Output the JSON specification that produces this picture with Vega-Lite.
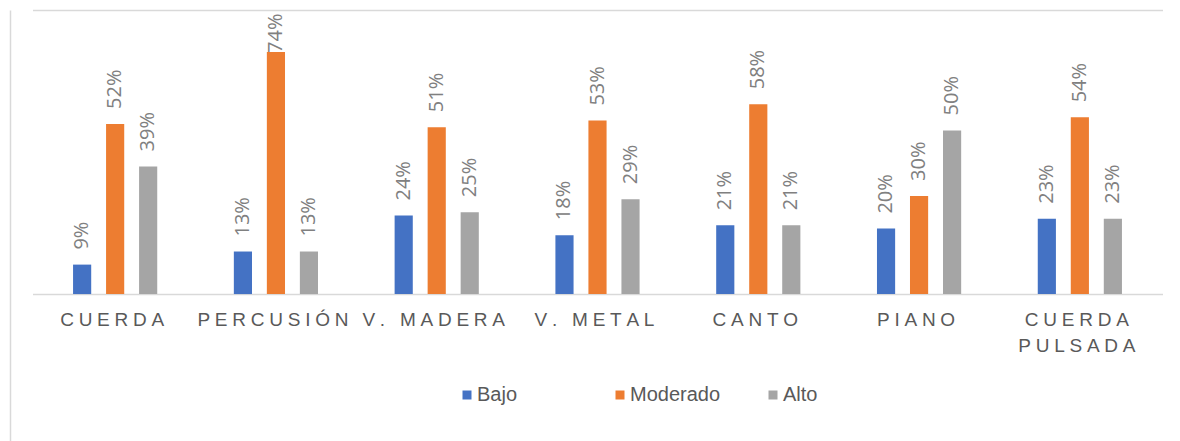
{
  "$schema": "https://vega.github.io/schema/vega-lite/v6.json",
  "width": 1170,
  "height": 431,
  "autosize": {"type": "none"},
  "padding": {"left": 10, "top": 10, "right": 0, "bottom": 0},
  "background": "white",
  "config": {"view": {"stroke": null}},
  "data": {"values": [
    {"categoria": "CUERDA", "nivel": "Bajo", "valor": 0.09},
    {"categoria": "CUERDA", "nivel": "Moderado", "valor": 0.52},
    {"categoria": "CUERDA", "nivel": "Alto", "valor": 0.39},
    {"categoria": "PERCUSIÓN", "nivel": "Bajo", "valor": 0.13},
    {"categoria": "PERCUSIÓN", "nivel": "Moderado", "valor": 0.74},
    {"categoria": "PERCUSIÓN", "nivel": "Alto", "valor": 0.13},
    {"categoria": "V. MADERA", "nivel": "Bajo", "valor": 0.24},
    {"categoria": "V. MADERA", "nivel": "Moderado", "valor": 0.51},
    {"categoria": "V. MADERA", "nivel": "Alto", "valor": 0.25},
    {"categoria": "V. METAL", "nivel": "Bajo", "valor": 0.18},
    {"categoria": "V. METAL", "nivel": "Moderado", "valor": 0.53},
    {"categoria": "V. METAL", "nivel": "Alto", "valor": 0.29},
    {"categoria": "CANTO", "nivel": "Bajo", "valor": 0.21},
    {"categoria": "CANTO", "nivel": "Moderado", "valor": 0.58},
    {"categoria": "CANTO", "nivel": "Alto", "valor": 0.21},
    {"categoria": "PIANO", "nivel": "Bajo", "valor": 0.20},
    {"categoria": "PIANO", "nivel": "Moderado", "valor": 0.30},
    {"categoria": "PIANO", "nivel": "Alto", "valor": 0.50},
    {"categoria": "CUERDA PULSADA", "nivel": "Bajo", "valor": 0.23},
    {"categoria": "CUERDA PULSADA", "nivel": "Moderado", "valor": 0.54},
    {"categoria": "CUERDA PULSADA", "nivel": "Alto", "valor": 0.23}
  ]},
  "encoding": {
    "x": {
      "field": "categoria",
      "type": "nominal",
      "sort": null,
      "scale": {"range": [22.5, 1152.5], "paddingInner": 0.384, "paddingOuter": 0.206},
      "axis": {
        "orient": "bottom",
        "offset": -147,
        "title": null,
        "domainColor": "#d9d9d9",
        "domainWidth": 1.5,
        "ticks": false,
        "labelAngle": 0,
        "labelPadding": 16,
        "labelOffset": -3,
        "labelFont": "Liberation Sans",
        "labelFontSize": 19,
        "labelColor": "#595959",
        "labelLineHeight": 26,
        "labelBaseline": "top",
        "labelExpr": "datum.label == 'CUERDA PULSADA' ? ['C\u2005U\u2005E\u2005R\u2005D\u2005A', 'P\u2005U\u2005L\u2005S\u2005A\u2005D\u2005A'] : replace(datum.label, /(.)(?!$)/g, '$1\u2005')"
      }
    },
    "xOffset": {
      "field": "nivel",
      "type": "nominal",
      "sort": ["Bajo", "Moderado", "Alto"],
      "scale": {"paddingInner": 0.45, "paddingOuter": 0.225}
    },
    "y": {
      "field": "valor",
      "type": "quantitative",
      "scale": {"domain": [-0.449, 0.868], "nice": false, "zero": false},
      "axis": {
        "title": null,
        "orient": "left",
        "domain": true,
        "domainColor": "#d9d9d9",
        "domainWidth": 1.5,
        "grid": true,
        "gridColor": "#d9d9d9",
        "gridWidth": 1.5,
        "values": [0.868],
        "labels": false,
        "ticks": false
      }
    }
  },
  "layer": [
    {
      "mark": {"type": "bar"},
      "encoding": {
        "y2": {"datum": 0},
        "color": {
          "field": "nivel",
          "type": "nominal",
          "sort": ["Bajo", "Moderado", "Alto"],
          "scale": {"domain": ["Bajo", "Moderado", "Alto"], "range": ["#4472C4", "#ED7D31", "#A5A5A5"]},
          "legend": {
            "orient": "none",
            "legendX": 447,
            "legendY": 375,
            "direction": "horizontal",
            "columns": 3,
            "gridAlign": "all",
            "columnPadding": 42,
            "title": null,
            "symbolType": "square",
            "symbolSize": 81,
            "symbolStrokeWidth": 0,
            "labelFont": "Liberation Sans",
            "labelFontSize": 20,
            "labelColor": "#595959",
            "labelOffset": 0,
            "padding": 0
          }
        }
      }
    },
    {
      "transform": [{"filter": "datum.valor < 0.7"}],
      "mark": {"type": "text", "angle": 270, "align": "left", "baseline": "middle", "dx": 15, "font": "Open Sans", "fontSize": 20, "color": "#808080"},
      "encoding": {
        "text": {"field": "valor", "type": "quantitative", "format": ".0%"}
      }
    },
    {
      "transform": [{"filter": "datum.valor >= 0.7"}],
      "mark": {"type": "text", "angle": 270, "align": "left", "baseline": "middle", "dx": -1, "font": "Open Sans", "fontSize": 20, "color": "#808080"},
      "encoding": {
        "text": {"field": "valor", "type": "quantitative", "format": ".0%"}
      }
    }
  ]
}
